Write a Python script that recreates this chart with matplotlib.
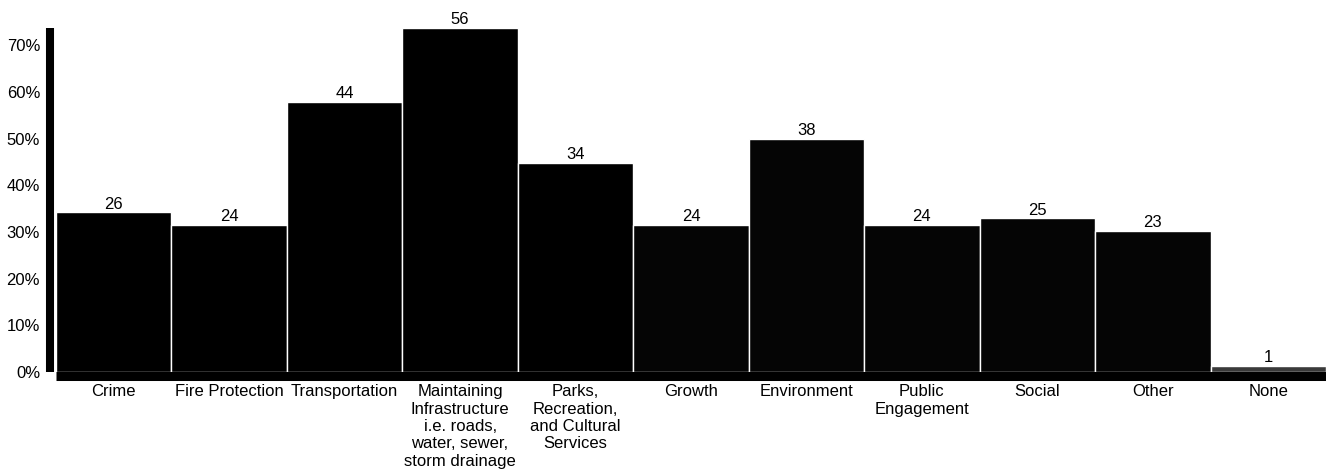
import matplotlib
matplotlib.use('Agg')
import matplotlib.pyplot as plt
import numpy as np

# data (counts out of 76 respondents)
categories = ['Crime', 'Fire Protection', 'Transportation',
              'Maintaining\nInfrastructure\ni.e. roads,\nwater, sewer,\nstorm drainage',
              'Parks,\nRecreation,\nand Cultural\nServices',
              'Growth', 'Environment', 'Public\nEngagement', 'Social', 'Other', 'None']
counts = [26, 24, 44, 56, 34, 24, 38, 24, 25, 23, 1]
total = 76
y_ticks = [0, 0.1, 0.2, 0.3, 0.4, 0.5, 0.6, 0.7]
y_labels = ['0%', '10%', '20%', '30%', '40%', '50%', '60%', '70%']

plt.rcParams['font.family'] = ['Liberation Sans', 'DejaVu Sans']

share = np.array(counts) / total
x = np.arange(len(categories))
bar_colors = ['#000000'] * 5 + ['#050505'] * 5 + ['#3a3a3a']

fig = plt.figure(figsize=(13.26, 4.73), dpi=100)
ax = fig.add_axes([56 / 1326, 101 / 473, 1270 / 1326, 344 / 473])

ax.bar(x, share, width=1.0, color=bar_colors, edgecolor='white', linewidth=1.0)
for xi, s, c in zip(x, share, counts):
    ax.annotate(str(c), (xi, s), xytext=(0, 0.5), textcoords='offset points',
                ha='center', va='bottom', fontsize=12, annotation_clip=False)

ax.set_xlim(-0.5, len(categories) - 0.5)
ax.set_ylim(0, max(share))
ax.tick_params(axis='y', length=0, pad=7.2, labelsize=12)
ax.tick_params(axis='x', length=0, pad=5.6, labelsize=12)
ax.set_yticks(y_ticks)
ax.set_yticklabels(y_labels)
ax.set_xticks(x)
ax.set_xticklabels(categories, linespacing=0.84)

for side in ['top', 'right']:
    ax.spines[side].set_visible(False)
ax.spines['left'].set_linewidth(5.8)
ax.spines['left'].set_position(('outward', 4.3))
ax.spines['bottom'].set_linewidth(6.5)
ax.spines['bottom'].set_position(('outward', 3.2))
ax.spines['bottom'].set_capstyle('butt')
ax.spines['left'].set_capstyle('butt')

plt.savefig('out.png', dpi=100)
